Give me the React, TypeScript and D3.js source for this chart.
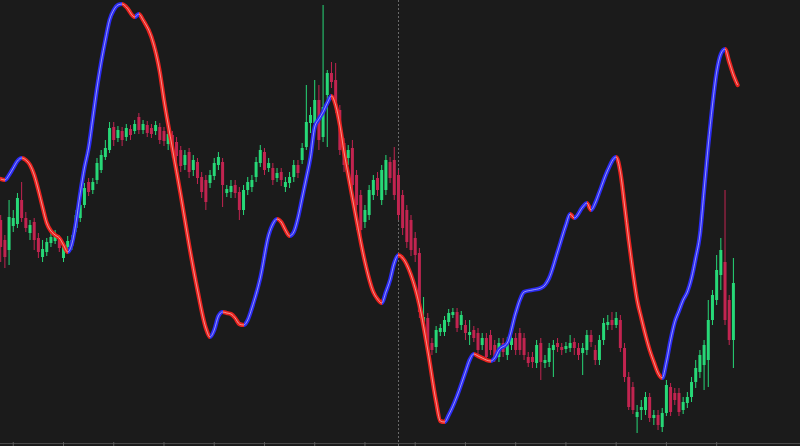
import React, { useEffect, useRef } from "react";
import * as d3 from "d3";

const W = 800;
const H = 446;

const opens = [280,260,250,274,276,300,282,267,278,262,
243,248,257,259,262,242,253,254,272,282,
295,318,310,320,330,343,350,373,362,369,
363,371,369,383,370,375,372,369,373,369,
356,365,358,350,335,348,330,338,323,320,
317,324,335,338,307,308,315,308,290,310,
313,323,337,348,332,332,322,328,313,317,
323,335,340,353,377,377,400,363,405,427,
420,390,357,342,352,325,305,278,285,305,
322,300,310,338,340,325,305,290,280,262,
247,178,182,157,153,168,168,178,185,188,
175,175,165,170,167,155,162,165,155,143,
157,145,155,162,167,162,143,143,137,157,
137,138,150,157,153,151,152,158,152,147,
150,165,150,140,160,175,180,175,180,152,
123,113,83,90,90,103,82,85,73,87,
113,107,107,90,97,103,118,128,135,140,
180,200,225,238,200,160];

const closes = [253,243,283,282,302,282,272,275,260,248,
251,258,263,264,252,253,259,260,285,295,
312,308,318,337,345,352,372,360,370,360,
372,365,376,370,376,367,366,375,360,359,
366,348,344,334,345,328,340,322,308,298,
325,337,343,315,311,314,307,290,310,318,
320,338,350,330,337,320,327,320,318,323,
335,327,352,378,385,400,360,393,427,418,
393,350,335,350,315,295,270,290,310,320,
310,330,340,322,305,285,272,258,250,245,
188,183,150,150,170,172,180,187,188,172,
185,167,168,162,150,162,143,150,143,157,
148,158,162,150,150,145,137,138,155,138,
140,152,155,153,150,154,157,152,145,152,
165,158,140,160,177,178,175,182,152,123,
93,90,88,93,103,82,85,75,87,115,
88,100,88,98,103,118,132,145,155,180,
205,230,250,180,160,217];

const highs = [285,265,300,290,307,318,288,280,282,267,
260,262,268,270,265,257,264,265,290,300,
317,322,322,342,350,360,378,378,374,373,
376,375,380,387,380,379,376,379,377,373,
370,369,363,354,350,352,345,342,328,325,
330,342,348,342,315,320,320,313,315,323,
325,343,355,352,342,337,332,332,323,328,
340,340,357,415,393,420,415,495,430,438,
437,395,362,355,360,330,310,295,315,325,
328,335,345,343,353,330,310,295,285,268,
252,203,187,162,174,176,184,191,192,192,
189,180,180,174,172,167,167,170,160,162,
162,163,167,167,172,167,148,148,160,162,
145,157,160,162,157,158,165,162,157,157,
170,170,155,165,182,185,188,188,185,157,
128,118,95,100,108,107,90,90,92,120,
117,112,112,103,108,123,140,150,160,200,
210,245,262,310,205,242];

const lows = [238,232,235,268,272,278,268,260,250,242,
238,244,253,256,248,238,248,250,268,278,
292,304,306,316,327,340,347,354,358,354,
359,360,366,366,366,363,362,365,356,354,
350,342,338,328,330,322,324,316,302,290,
312,320,330,293,303,302,302,280,285,305,
308,318,333,325,328,315,318,314,308,312,
318,322,336,350,367,374,350,358,353,412,
387,345,328,335,308,270,260,272,280,300,
304,295,305,317,300,280,265,252,244,238,
182,175,145,145,147,164,164,174,182,168,
170,160,155,158,145,150,138,145,138,138,
143,140,150,145,145,140,133,132,132,120,
132,133,123,148,145,147,148,145,140,125,
145,153,135,135,155,170,170,172,148,118,
90,86,67,80,85,78,75,70,68,84,
84,95,84,86,92,98,112,122,110,113,
175,195,210,175,155,132];

// smoothed trend line (key readings at candle indices)
const lineIdx = [0,1,2,3,4,5,6,7,8,9,10,11,12,13,14,15,16,17,18,19,20,21,22,23,24,25,26,27,28,29,30,32,33,34,36,38,39,41,43,45,47,49,50,51,52,53,54,55,56,57,58,59,60,62,64,65,66,67,68,69,70,71,72,73,74,75,76,77,78,79,80,81,82,83,85,87,89,90,91,92,93,94,95,96,98,100,102,104,105,106,107,109,111,112,113,114,115,116,117,118,119,121,123,124,125,127,129,130,131,133,135,136,137,139,140,141,142,143,145,147,148,149,150,151,152,153,154,155,156,157,158,159,160,161,162,163,164,165,166,167,168,169,170,171,172,173,174,175,176];
const lineVal = [321,320,325,332,339,342,340,335,325,310,293,277,269,265,262,255,248,256,278,307,332,352,382,412,438,460,480,490,495,496,493,483,486,480,463,428,400,352,305,255,210,172,163,170,184,188,187,186,182,176,175,180,192,222,265,276,281,278,270,264,268,282,302,322,343,373,381,388,397,404,395,375,348,325,280,238,208,201,197,208,220,237,245,242,225,195,150,98,79,78,85,104,128,140,146,144,142,140,139,142,150,157,187,200,208,210,212,215,222,248,275,286,282,293,297,290,297,308,330,343,328,295,260,228,200,182,165,150,138,127,122,138,160,178,189,200,208,222,242,265,310,355,395,428,446,451,438,425,415];

const tickIdx = [3,15,27,39,51,63,75,87,99,111,123,135,147,159,171];
const markerIdx = 95;

const BG = "#1b1b1b";
const UP = "#27d877";
const DOWN = "#c22450";
const LINE_UP = "#2b2bf2";
const LINE_DOWN = "#e8221e";

export default function App() {
  const ref = useRef<SVGSVGElement>(null);

  useEffect(() => {
    document.body.style.margin = "0";
    const svg = d3.select(ref.current);
    svg.selectAll("*").remove();

    const x = d3.scaleLinear().domain([0, 175]).range([0.7, 733.4]);
    const y = d3.scaleLinear().domain([54, 500]).range([H, 0]);
    const yl = d3.scaleLinear().domain([54, 500]).range([H, 0]);

    svg.append("rect").attr("width", W).attr("height", H).attr("fill", BG);

    // marker line
    svg.append("line")
      .attr("x1", Math.round(x(markerIdx)) + 0.5).attr("x2", Math.round(x(markerIdx)) + 0.5)
      .attr("y1", 0).attr("y2", H)
      .attr("stroke", "#6a6a6a").attr("stroke-width", 1).attr("stroke-dasharray", "2,2");

    // axis
    svg.append("line").attr("x1", 0).attr("x2", W).attr("y1", 443.5).attr("y2", 443.5)
      .attr("stroke", "#4a4a4a").attr("stroke-width", 1);
    svg.selectAll("line.tick").data(tickIdx).enter().append("line")
      .attr("class", "tick")
      .attr("x1", d => x(d)).attr("x2", d => x(d))
      .attr("y1", 442).attr("y2", H)
      .attr("stroke", "#5c5c5c").attr("stroke-width", 1);

    const idx = d3.range(opens.length);
    const g = svg.append("g");
    // wicks
    g.selectAll("line.wick").data(idx).enter().append("line")
      .attr("class", "wick")
      .attr("x1", i => x(i)).attr("x2", i => x(i))
      .attr("y1", i => y(highs[i])).attr("y2", i => y(lows[i]))
      .attr("stroke", i => (closes[i] >= opens[i] ? UP : DOWN))
      .attr("stroke-width", 1);
    // bodies
    const bw = 3;
    g.selectAll("rect.body").data(idx).enter().append("rect")
      .attr("class", "body")
      .attr("x", i => x(i) - bw / 2)
      .attr("width", bw)
      .attr("y", i => y(Math.max(opens[i], closes[i])))
      .attr("height", i => Math.max(1, Math.abs(y(opens[i]) - y(closes[i]))))
      .attr("fill", i => (closes[i] >= opens[i] ? UP : DOWN));

    // gradient for line direction
    const defs = svg.append("defs");
    const grad = defs.append("linearGradient").attr("id", "dirGrad")
      .attr("gradientUnits", "userSpaceOnUse")
      .attr("x1", 0).attr("x2", W).attr("y1", 0).attr("y2", 0);
    let prevColor = LINE_DOWN;
    for (let k = 0; k < lineIdx.length - 1; k++) {
      const c = lineVal[k + 1] > lineVal[k] ? LINE_UP : lineVal[k + 1] < lineVal[k] ? LINE_DOWN : prevColor;
      prevColor = c;
      const x0 = x(lineIdx[k]) / W;
      const x1 = x(lineIdx[k + 1]) / W;
      grad.append("stop").attr("offset", x0).attr("stop-color", c);
      grad.append("stop").attr("offset", x1).attr("stop-color", c);
    }

    const pts = lineIdx.map((d, k) => [x(d), yl(lineVal[k])] as [number, number]);
    const lineGen = d3.line().curve(d3.curveMonotoneX);
    const pathD = lineGen(pts) as string;
    svg.append("path").attr("d", pathD).attr("fill", "none")
      .attr("stroke", "url(#dirGrad)").attr("stroke-width", 4.2)
      .attr("stroke-linejoin", "round").attr("stroke-linecap", "round");
    svg.append("path").attr("d", pathD).attr("fill", "none")
      .attr("stroke", "#ffffff").attr("stroke-opacity", 0.5).attr("stroke-width", 1)
      .attr("stroke-linejoin", "round");
  }, []);

  return (
    <svg ref={ref} width={W} height={H}
      style={{ display: "block", position: "absolute", left: 0, top: 0 }} />
  );
}
